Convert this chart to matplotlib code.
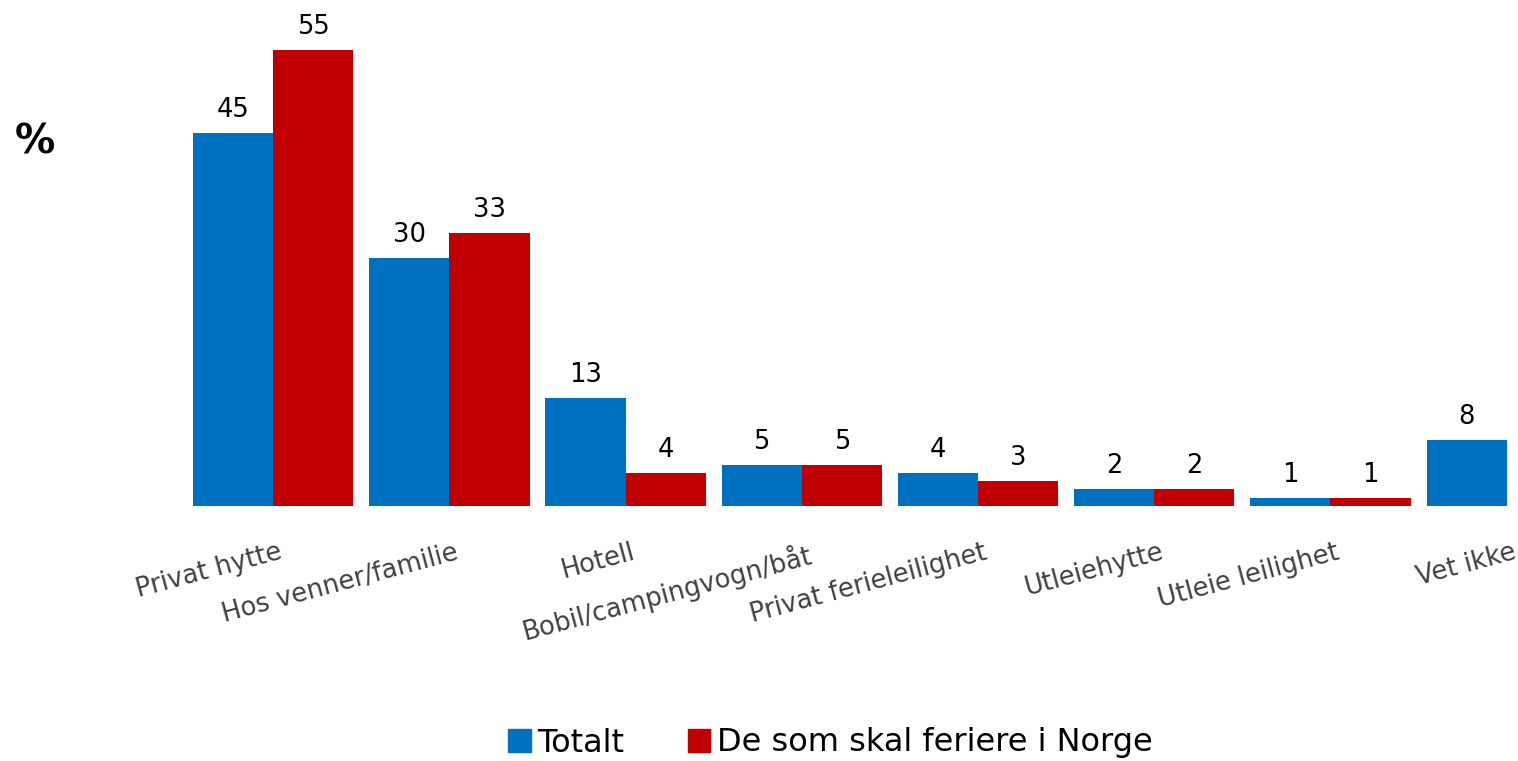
import numpy as np
import matplotlib
matplotlib.use("Agg")
import matplotlib.pyplot as plt
from matplotlib.patches import Patch

# ---------- data ----------
categories = ["Privat hytte", "Hos venner/familie", "Hotell", "Bobil/campingvogn/båt",
              "Privat ferieleilighet", "Utleiehytte", "Utleie leilighet", "Vet ikke"]
totalt = [45, 30, 13, 5, 4, 2, 1, 8]
norge = [55, 33, 4, 5, 3, 2, 1, None]
series_names = ["Totalt", "De som skal feriere i Norge"]

BLUE, RED = "#0070C0", "#C00000"

fig = plt.figure(figsize=(15.18, 7.61), dpi=100)
W, H = 1518, 761
ax = fig.add_axes([193 / W, 255 / H, (1512 - 193) / W, 497 / H])

x = np.arange(len(categories))
w = 0.455
ax.bar(x - w / 2, totalt, width=w, color=BLUE)
nx = [xi for xi, v in zip(x, norge) if v is not None]
nv = [v for v in norge if v is not None]
ax.bar(np.array(nx) + w / 2, nv, width=w, color=RED)

for xi, v in zip(x, totalt):
    ax.text(xi - w / 2, v + 1.2, str(v), ha="center", va="bottom", fontsize=18.5)
for xi, v in zip(nx, nv):
    ax.text(xi + w / 2, v + 1.2, str(v), ha="center", va="bottom", fontsize=18.5)

ax.set_xlim(-w, len(categories) - 1)
ax.set_ylim(0, 60)
ax.set_yticks([])
ax.set_xticks(x + 0.03)
ax.set_xticklabels(categories, rotation=15, ha="right", rotation_mode="anchor",
                   fontsize=18.5, color="#404040")
ax.tick_params(axis="x", length=0, pad=24)
for s in ax.spines.values():
    s.set_visible(False)

fig.text(35 / W, 1 - 143 / H, "%", ha="center", va="center", fontsize=29, fontweight="bold")

handles = [Patch(color=BLUE), Patch(color=RED)]
fig.legend(handles, series_names, loc="center", bbox_to_anchor=(0.547, 1 - 743 / H),
           ncol=2, frameon=False, fontsize=23, handlelength=0.7, handleheight=0.7,
           handletextpad=0.2, columnspacing=2.0)

plt.savefig("out.png", dpi=100)
